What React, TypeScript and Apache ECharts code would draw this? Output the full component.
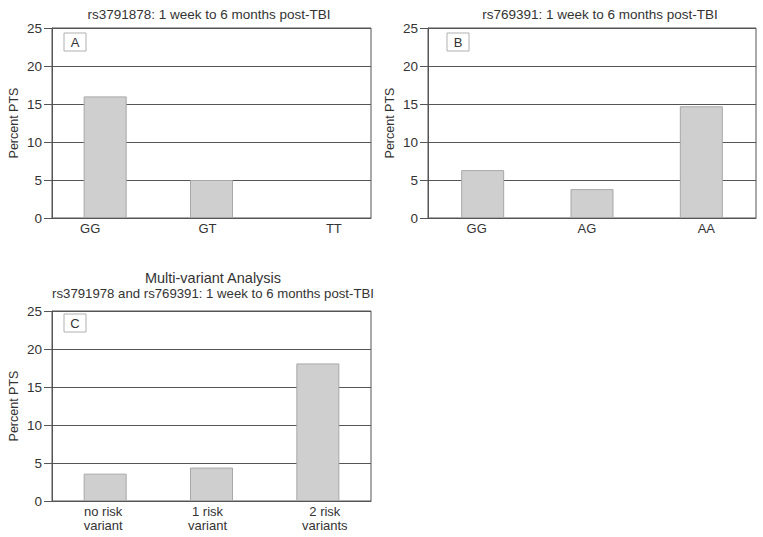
import React, { useEffect, useRef } from "react";
import * as echarts from "echarts";

const catsA = ["GG", "GT", "TT"];
const valsA = [16.0, 5.0, 0];
const catsB = ["GG", "AG", "AA"];
const valsB = [6.3, 3.8, 14.7];
const catsC = ["no risk\nvariant", "1 risk\nvariant", "2 risk\nvariants"];
const valsC = [3.6, 4.4, 18.1];
const titleA = "rs3791878: 1 week to 6 months post-TBI";
const titleB = "rs769391: 1 week to 6 months post-TBI";
const titleC = "Multi-variant Analysis";
const subtitleC = "rs3791978 and rs769391: 1 week to 6 months post-TBI";
const yTicks = [0, 5, 10, 15, 20, 25];
const yName = "Percent PTS";

const FONT = "Liberation Sans, Arial, sans-serif";
const TXT = "#333";
const LINE = "#555";

// label shifts (px) per category to mimic the reference label placement
const shiftA = [-15, -4, 16];
const shiftB = [-6, -5, 5];
const shiftC = [-2, -4, 7];

function mkX(idx: number, cats: string[], shifts: number[]) {
  const rich: any = {};
  shifts.forEach((s, i) => {
    rich["s" + i] = {
      fontFamily: FONT,
      fontSize: 13,
      color: TXT,
      lineHeight: 13.5,
      align: "center",
      padding: s < 0 ? [0, -2 * s, 0, 0] : [0, 0, 0, 2 * s],
    };
  });
  return {
    type: "category",
    gridIndex: idx,
    data: cats,
    axisLine: { show: true, lineStyle: { color: LINE, width: 1 } },
    axisTick: { show: false },
    axisLabel: {
      margin: 4,
      interval: 0,
      formatter: (v: string, i: number) =>
        v
          .split("\n")
          .map((l) => `{s${i}|${l}}`)
          .join("\n"),
      rich,
    },
  };
}

function mkY(idx: number) {
  return {
    type: "value",
    gridIndex: idx,
    min: 0,
    max: 25,
    interval: 5,
    name: yName,
    nameLocation: "middle",
    nameGap: 32,
    nameTextStyle: { fontFamily: FONT, fontSize: 12.5, color: TXT },
    axisLine: { show: true, lineStyle: { color: LINE, width: 1 } },
    axisTick: { show: true, length: 8, lineStyle: { color: LINE } },
    axisLabel: {
      fontFamily: FONT,
      fontSize: 13.5,
      color: TXT,
      margin: 10,
      formatter: (v: number) => (yTicks.includes(v) ? String(v) : ""),
    },
    splitLine: { show: true, lineStyle: { color: LINE, width: 1 } },
  };
}

function mkSeries(idx: number, vals: number[]) {
  return {
    type: "bar",
    xAxisIndex: idx,
    yAxisIndex: idx,
    data: vals.map((v) => (v === 0 ? { value: v, itemStyle: { borderWidth: 0, opacity: 0 } } : v)),
    barWidth: 43,
    z: 3,
    itemStyle: { color: "#cfcfcf", borderColor: "#a8a8a8", borderWidth: 1 },
  };
}

function letterBox(x: number, y: number, t: string) {
  return {
    type: "group",
    x,
    y,
    z: 100,
    children: [
      {
        type: "rect",
        shape: { x: 0, y: 0, width: 22, height: 18 },
        style: { fill: "#fff", stroke: "#b0b0b0", lineWidth: 1 },
      },
      {
        type: "text",
        x: 11,
        y: 9,
        style: {
          text: t,
          fill: TXT,
          font: `13px ${FONT}`,
          textAlign: "center",
          textVerticalAlign: "middle",
        },
      },
    ],
  };
}

const ttl = (text: string, left: number, top: number, size: number) => ({
  text,
  left,
  top,
  padding: 0,
  textAlign: "center",
  textStyle: { fontFamily: FONT, fontSize: size, fontWeight: "normal", color: TXT, lineHeight: size },
});

export default function App() {
  const ref = useRef<HTMLDivElement>(null);
  useEffect(() => {
    if (!ref.current) return;
    const chart = echarts.init(ref.current, undefined, { renderer: "svg" });
    const gridStyle = { show: true, borderColor: LINE, borderWidth: 1, containLabel: false };
    chart.setOption({
      animation: false,
      backgroundColor: "#fff",
      title: [
        ttl(titleA, 209, 8, 13.5),
        ttl(titleB, 600, 8, 13.5),
        ttl(titleC, 213, 271, 14.5),
        ttl(subtitleC, 213, 287, 13.2),
      ],
      grid: [
        { ...gridStyle, left: 52, top: 28, width: 319, height: 190 },
        { ...gridStyle, left: 428, top: 28, width: 328, height: 190 },
        { ...gridStyle, left: 52, top: 311, width: 319, height: 190 },
      ],
      xAxis: [mkX(0, catsA, shiftA), mkX(1, catsB, shiftB), mkX(2, catsC, shiftC)],
      yAxis: [mkY(0), mkY(1), mkY(2)],
      series: [mkSeries(0, valsA), mkSeries(1, valsB), mkSeries(2, valsC)],
      graphic: [letterBox(64, 33, "A"), letterBox(447, 33, "B"), letterBox(64, 314, "C")],
    });
    return () => chart.dispose();
  }, []);
  return (
    <div
      ref={ref}
      style={{ position: "fixed", left: 0, top: 0, width: 763, height: 537 }}
    />
  );
}
